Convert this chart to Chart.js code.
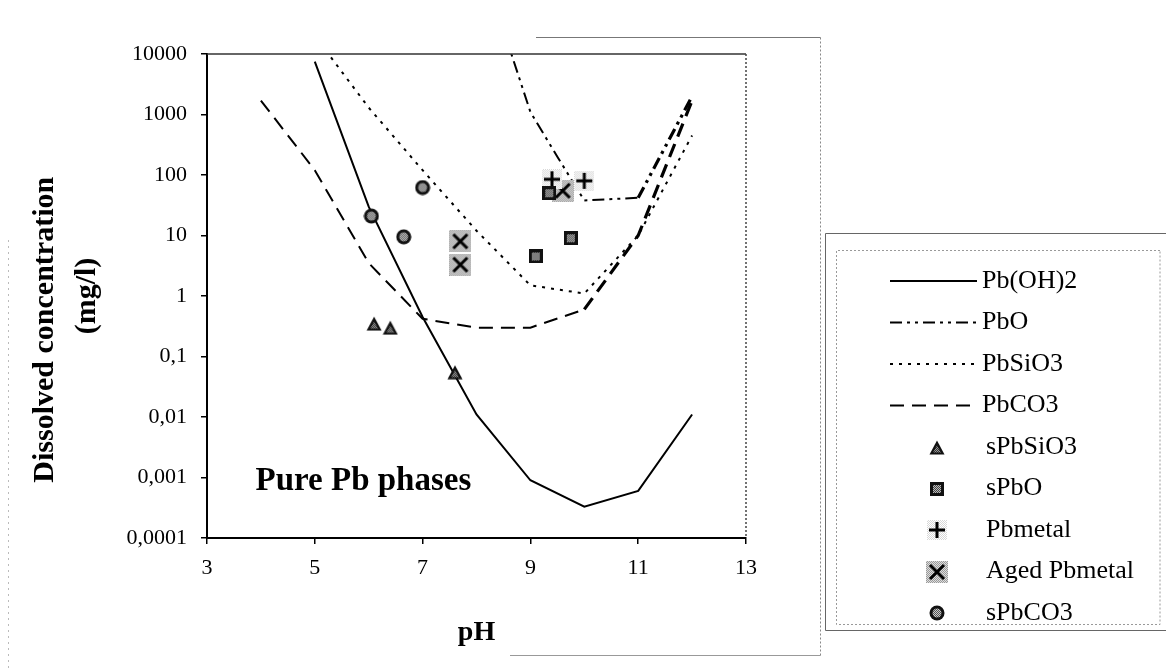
<!DOCTYPE html>
<html><head><meta charset="utf-8">
<script src="https://cdn.jsdelivr.net/npm/chart.js@4.4.0/dist/chart.umd.min.js"></script>
<style>html,body{margin:0;padding:0;background:#fff}#wrap{width:1166px;height:668px;position:relative}</style>
</head><body><div id="wrap"><canvas id="c" width="1166" height="668"></canvas></div>
<script>
// ---- data ----
const pHPbOH2 = [5, 6, 7, 8, 9, 10, 11, 12];
const concPbOH2 = [7500, 30, 0.45, 0.011, 0.0009, 0.00033, 0.0006, 0.011];
const pHPbO = [8.5, 9, 9.5, 10, 11, 12];
const concPbO = [25000, 1100, 200, 38, 42, 2000];
const pHPbSiO3 = [5, 6, 7, 8, 9, 10, 11, 12];
const concPbSiO3 = [20000, 1300, 120, 12, 1.5, 1.1, 10, 450];
const pHPbCO3 = [4, 5, 6, 7, 8, 9, 10, 11, 12];
const concPbCO3 = [1700, 120, 3.5, 0.42, 0.3, 0.3, 0.6, 10, 1700];

const pH_sPbSiO3 = [6.1, 6.4, 7.6];
const c_sPbSiO3 = [0.35, 0.3, 0.055];
const pH_sPbO = [9.1, 9.75, 9.35];
const c_sPbO = [4.5, 9, 50];
const pH_Pbmetal = [9.4, 10.0];
const c_Pbmetal = [85, 80];
const pH_Aged = [7.7, 7.7, 9.6];
const c_Aged = [8, 3.3, 55];
const pH_sPbCO3 = [6.05, 6.65, 7.0];
const c_sPbCO3 = [21, 9.5, 62];

const seriesNames = ['Pb(OH)2', 'PbO', 'PbSiO3', 'PbCO3', 'sPbSiO3', 'sPbO', 'Pbmetal', 'Aged Pbmetal', 'sPbCO3'];
const xTickValues = [3, 5, 7, 9, 11, 13];
const xTickLabels = ['3', '5', '7', '9', '11', '13'];
const yTickValues = [0.0001, 0.001, 0.01, 0.1, 1, 10, 100, 1000, 10000];
const yTickLabels = ['0,0001', '0,001', '0,01', '0,1', '1', '10', '100', '1000', '10000'];
const xTitle = 'pH';
const yTitle = ['Dissolved concentration         ', '(mg/l)'];
const annotText = 'Pure Pb phases';
const annotPH = 3.9, annotConc = 0.00063;

// ---- marker images ----
function mk(w, h, draw) { const c = document.createElement('canvas'); c.width = w; c.height = h; draw(c.getContext('2d'), w, h); return c; }
function speck(ctx, x, y, w, h, a, b) { for (let i = 0; i < w; i++) for (let j = 0; j < h; j++) { ctx.fillStyle = ((i + j) % 2) ? a : b; ctx.fillRect(x + i, y + j, 1, 1); } }
const imgTri = mk(16, 15, (ctx) => {
  ctx.beginPath(); ctx.moveTo(8, 0.5); ctx.lineTo(15.5, 14.5); ctx.lineTo(0.5, 14.5); ctx.closePath(); ctx.fillStyle = '#111'; ctx.fill();
  ctx.save(); ctx.beginPath(); ctx.moveTo(8, 5.5); ctx.lineTo(12, 12.5); ctx.lineTo(4, 12.5); ctx.closePath(); ctx.clip(); speck(ctx, 0, 0, 16, 15, '#999', '#333'); ctx.restore();
});
const imgSq = mk(14, 14, (ctx) => { ctx.fillStyle = '#111'; ctx.fillRect(0, 0, 14, 14); speck(ctx, 3, 3, 8, 8, '#bbb', '#444'); });
const imgPlus = mk(20, 20, (ctx) => { speck(ctx, 0, 0, 20, 20, '#d8d8d8', '#fff'); ctx.fillStyle = '#000'; ctx.fillRect(2, 8.5, 16, 3); ctx.fillRect(8.5, 2, 3, 16); });
const imgAged = mk(22, 22, (ctx) => {
  speck(ctx, 0, 0, 22, 22, '#999', '#ddd');
  ctx.strokeStyle = '#000'; ctx.lineWidth = 3; ctx.beginPath(); ctx.moveTo(4, 4); ctx.lineTo(18, 18); ctx.moveTo(18, 4); ctx.lineTo(4, 18); ctx.stroke();
});
const imgCirc = mk(16, 16, (ctx) => {
  ctx.beginPath(); ctx.arc(8, 8, 7.5, 0, Math.PI * 2); ctx.fillStyle = '#111'; ctx.fill();
  ctx.save(); ctx.beginPath(); ctx.arc(8, 8, 4.5, 0, Math.PI * 2); ctx.clip(); speck(ctx, 0, 0, 16, 16, '#ccc', '#555'); ctx.restore();
});

const pts = (xs, ys) => xs.map((x, i) => ({ x: x, y: ys[i] }));
function lineDS(name, xs, ys, dash, w, heavyFrom) {
  const ds = { label: name, data: pts(xs, ys), showLine: true, borderColor: '#000', backgroundColor: '#000', borderWidth: w, borderDash: dash, pointRadius: 0, pointHoverRadius: 0, tension: 0, fill: false, order: 1 };
  if (heavyFrom !== undefined) ds.segment = { borderWidth: (c) => (c.p0.parsed.x >= heavyFrom ? 3.2 : w) };
  return ds;
}
function markDS(name, xs, ys, img) {
  return { label: name, data: pts(xs, ys), showLine: false, pointStyle: img, pointRadius: 8, pointHoverRadius: 8, order: 0 };
}

const datasets = [
  lineDS(seriesNames[0], pHPbOH2, concPbOH2, [], 2),
  lineDS(seriesNames[1], pHPbO, concPbO, [12, 5, 3, 5, 3, 5], 2, 11),
  lineDS(seriesNames[2], pHPbSiO3, concPbSiO3, [3, 6], 2),
  lineDS(seriesNames[3], pHPbCO3, concPbCO3, [14, 8], 2, 10),
  markDS(seriesNames[4], pH_sPbSiO3, c_sPbSiO3, imgTri),
  markDS(seriesNames[5], pH_sPbO, c_sPbO, imgSq),
  markDS(seriesNames[6], pH_Pbmetal, c_Pbmetal, imgPlus),
  markDS(seriesNames[7], pH_Aged, c_Aged, imgAged),
  markDS(seriesNames[8], pH_sPbCO3, c_sPbCO3, imgCirc)
];

const SERIF = '"Liberation Serif", "Times New Roman", serif';

const decor = {
  id: 'decor',
  beforeDraw(chart) {
    const ctx = chart.ctx; ctx.save(); ctx.fillStyle = '#fff'; ctx.fillRect(0, 0, chart.width, chart.height);
    ctx.strokeStyle = '#777'; ctx.lineWidth = 1;
    ctx.beginPath(); ctx.moveTo(536, 37.5); ctx.lineTo(820.5, 37.5); ctx.stroke();
    ctx.setLineDash([2, 2]); ctx.strokeStyle = '#888';
    ctx.beginPath(); ctx.moveTo(820.5, 37.5); ctx.lineTo(820.5, 655.5); ctx.stroke();
    ctx.setLineDash([]); ctx.strokeStyle = '#999';
    ctx.beginPath(); ctx.moveTo(510, 655.5); ctx.lineTo(820.5, 655.5); ctx.stroke();
    ctx.setLineDash([2, 4]); ctx.strokeStyle = '#bbb';
    ctx.beginPath(); ctx.moveTo(8.5, 240); ctx.lineTo(8.5, 668); ctx.stroke();
    ctx.restore();
  },
  afterDraw(chart) {
    const ctx = chart.ctx, a = chart.chartArea;
    ctx.save();
    ctx.strokeStyle = '#333'; ctx.lineWidth = 1.5;
    ctx.beginPath(); ctx.moveTo(a.left, a.top); ctx.lineTo(a.right, a.top); ctx.stroke();
    ctx.setLineDash([2, 2]); ctx.strokeStyle = '#444';
    ctx.beginPath(); ctx.moveTo(a.right, a.top); ctx.lineTo(a.right, a.bottom); ctx.stroke();
    ctx.setLineDash([]);
    ctx.fillStyle = '#000'; ctx.font = 'bold 33px ' + SERIF; ctx.textBaseline = 'alphabetic'; ctx.textAlign = 'left';
    ctx.fillText(annotText, chart.scales.x.getPixelForValue(annotPH), chart.scales.y.getPixelForValue(annotConc));
    ctx.strokeStyle = '#666'; ctx.lineWidth = 1;
    ctx.beginPath(); ctx.moveTo(1166, 233.5); ctx.lineTo(825.5, 233.5); ctx.lineTo(825.5, 630.5); ctx.lineTo(1166, 630.5); ctx.stroke();
    ctx.setLineDash([2, 2]); ctx.strokeStyle = '#999';
    ctx.beginPath(); ctx.moveTo(1160, 250.5); ctx.lineTo(836.5, 250.5); ctx.lineTo(836.5, 624.5); ctx.lineTo(1160, 624.5); ctx.lineTo(1160, 250.5); ctx.stroke();
    ctx.setLineDash([]);
    const rowTop = 281, rowStep = 41.5;
    chart.data.datasets.forEach((ds, i) => {
      const y = rowTop + i * rowStep;
      ctx.fillStyle = '#000'; ctx.font = '26px ' + SERIF; ctx.textBaseline = 'middle'; ctx.textAlign = 'left';
      if (ds.showLine) {
        ctx.strokeStyle = '#000'; ctx.lineWidth = ds.borderWidth; ctx.setLineDash(ds.borderDash);
        ctx.beginPath(); ctx.moveTo(890, y); ctx.lineTo(977, y); ctx.stroke(); ctx.setLineDash([]);
        ctx.fillText(ds.label, 982, y);
      } else {
        const im = ds.pointStyle; ctx.drawImage(im, Math.round(937 - im.width / 2), Math.round(y - im.height / 2));
        ctx.fillText(ds.label, 986, y);
      }
    });
    ctx.restore();
  }
};

new Chart(document.getElementById('c'), {
  type: 'scatter',
  data: { datasets: datasets },
  options: {
    responsive: false, animation: false, devicePixelRatio: 1,
    layout: { padding: { left: 0, right: 420, top: 54, bottom: 0 } },
    plugins: { legend: { display: false }, tooltip: { enabled: false } },
    scales: {
      x: {
        type: 'linear', min: 3, max: 13,
        afterBuildTicks: (s) => { s.ticks = xTickValues.map(v => ({ value: v })); },
        ticks: { callback: (v, i) => xTickLabels[i], color: '#000', font: { family: SERIF, size: 22 }, padding: 11, maxRotation: 0 },
        grid: { drawOnChartArea: false, tickLength: 6, color: '#000', lineWidth: 1.5 },
        border: { color: '#000', width: 2 },
        title: { display: true, text: xTitle, color: '#000', font: { family: SERIF, size: 28, weight: 'bold' }, padding: { top: 0, bottom: 18 } },
        afterFit: (s) => { s.height = 130; }
      },
      y: {
        type: 'logarithmic', min: 0.0001, max: 10000,
        afterBuildTicks: (s) => { s.ticks = yTickValues.map(v => ({ value: v })); },
        ticks: { callback: (v, i) => yTickLabels[i], color: '#000', font: { family: SERIF, size: 22 }, padding: 14 },
        grid: { drawOnChartArea: false, tickLength: 6, color: '#000', lineWidth: 1.5 },
        border: { color: '#000', width: 2 },
        title: { display: true, text: yTitle, color: '#000', font: { family: SERIF, size: 30, weight: 'bold', lineHeight: 1.38 }, padding: { top: 25, bottom: 0 } },
        afterFit: (s) => { s.width = 207; }
      }
    }
  },
  plugins: [decor]
});
</script></body></html>
